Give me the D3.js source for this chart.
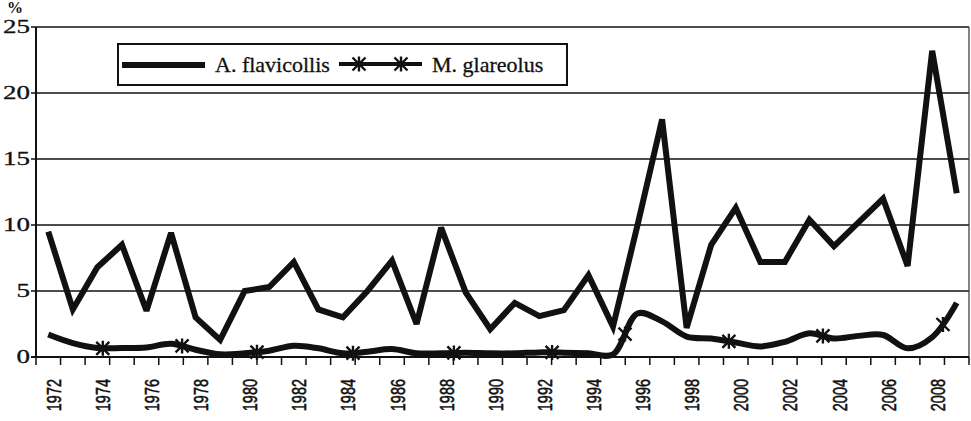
<!DOCTYPE html>
<html><head><meta charset="utf-8">
<script src="https://cdn.jsdelivr.net/npm/d3@7"></script>
<style>body{margin:0;background:#fff;} svg{display:block;}</style>
</head><body>
<svg id="c" width="971" height="421"></svg>
<script>
const years = d3.range(1972, 2010);
const flavicollis = [9.5,3.6,6.8,8.5,3.5,9.4,3.0,1.3,5.0,5.3,7.2,3.6,3.0,5.0,7.3,2.5,9.8,4.9,2.1,4.1,3.1,3.55,6.2,2.3,10.0,18.0,2.2,8.5,11.3,7.2,7.2,10.4,8.4,10.2,12.0,6.9,23.2,12.4];
const glareolus = [1.7,1.05,0.68,0.68,0.72,1.0,0.55,0.2,0.28,0.48,0.85,0.66,0.28,0.4,0.6,0.28,0.28,0.33,0.28,0.28,0.35,0.33,0.28,0.2,3.3,2.7,1.55,1.4,1.1,0.8,1.15,1.8,1.4,1.6,1.67,0.66,1.5,4.1];
const markerYears = [1974.22,1977.45,1980.5,1984.41,1988.52,1992.52,1995.49,1999.72,2003.55,2008.44];
const yTicks = [0,5,10,15,20,25];
const xLabels = d3.range(1972, 2010, 2);
const seriesNames = ["A. flavicollis","M. glareolus"];

const svg = d3.select("#c");
const L = 36, R = 969, T = 27, B = 357;
const xb = d3.scaleBand().domain(years).range([L, R]).padding(0);
const bw = xb.bandwidth();
const xc = d => xb(d) + bw/2;
const xl = d3.scaleLinear().domain([1972, 2009]).range([xc(1972), xc(2009)]);
const y = d3.scaleLinear().domain([0, 25]).range([B, T]);

// gridlines + y labels
const gy = svg.append("g");
gy.selectAll("line").data(yTicks).join("line")
  .attr("x1", L-5).attr("x2", R).attr("y1", d=>y(d)).attr("y2", d=>y(d))
  .attr("stroke", "#111").attr("stroke-width", 1.6);
gy.selectAll("text").data(yTicks).join("text")
  .attr("transform", d=>`translate(30,${y(d)}) scale(1.5,1)`)
  .attr("text-anchor","end").attr("dy","0.35em")
  .attr("font-family","'Liberation Serif', 'DejaVu Serif', serif")
  .attr("font-size",18).attr("fill","#111").attr("stroke","#111").attr("stroke-width",0.3).text(d=>d);
svg.append("text").attr("x",7).attr("y",13).attr("font-family","'Liberation Serif', serif")
  .attr("font-size",16).attr("fill","#111").attr("font-weight","bold").text("%");

// axes lines
svg.append("line").attr("x1",L).attr("x2",L).attr("y1",y(25)).attr("y2",B).attr("stroke","#111").attr("stroke-width",2);
svg.append("line").attr("x1",R).attr("x2",R).attr("y1",y(25)).attr("y2",B).attr("stroke","#333").attr("stroke-width",1.2);
svg.append("line").attr("x1",L-5).attr("x2",R).attr("y1",B).attr("y2",B).attr("stroke","#111").attr("stroke-width",2);

// x ticks at category boundaries
const bounds = years.map(d=>xb(d)).concat([R]);
svg.append("g").selectAll("line").data(bounds).join("line")
  .attr("x1",d=>d).attr("x2",d=>d).attr("y1",B).attr("y2",B+8)
  .attr("stroke","#111").attr("stroke-width",1.5);

// x labels
svg.append("g").selectAll("text").data(xLabels).join("text")
  .attr("transform", d=>`translate(${xc(d)+5},379) scale(1.45,1) rotate(-90)`)
  .attr("text-anchor","end").attr("dy","0.36em")
  .attr("font-family","'Liberation Sans', Arial, sans-serif")
  .attr("font-size",14.5).attr("fill","#111").attr("stroke","#111").attr("stroke-width",0.4).text(d=>d);

// A. flavicollis line
const lineA = d3.line().x((d,i)=>xc(years[i])).y(d=>y(d)).curve(d3.curveLinear);
svg.append("path").datum(flavicollis).attr("d", lineA)
  .attr("fill","none").attr("stroke","#111").attr("stroke-width",6).attr("stroke-linejoin","miter").attr("stroke-miterlimit",3);

// M. glareolus smooth line
const lineM = d3.line().x((d,i)=>xc(years[i])).y(d=>y(d)).curve(d3.curveCatmullRom.alpha(0.5));
const pM = svg.append("path").datum(glareolus).attr("d", lineM)
  .attr("fill","none").attr("stroke","#111").attr("stroke-width",6).attr("stroke-linejoin","round");

function star(g, cx, cy){
  const s = 6.5;
  g.append("path").attr("d",`M${cx-s},${cy-s}L${cx+s},${cy+s}M${cx-s},${cy+s}L${cx+s},${cy-s}M${cx},${cy-s-1}L${cx},${cy+s+1}`)
   .attr("stroke","#111").attr("stroke-width",2.4).attr("fill","none");
}
const node = pM.node();
const total = node.getTotalLength();
const mg = svg.append("g");
markerYears.forEach(yr=>{
  const tx = xl(yr);
  let lo=0, hi=total;
  for(let k=0;k<40;k++){ const mid=(lo+hi)/2; if(node.getPointAtLength(mid).x<tx) lo=mid; else hi=mid; }
  const p = node.getPointAtLength(lo);
  star(mg, p.x, p.y);
});

// legend
const lg = svg.append("g");
lg.append("rect").attr("x",118).attr("y",44).attr("width",449).attr("height",41)
  .attr("fill","#fff").attr("stroke","#111").attr("stroke-width",2);
lg.append("line").attr("x1",122).attr("x2",205).attr("y1",65).attr("y2",65).attr("stroke","#111").attr("stroke-width",6);
lg.append("text").attr("x",215).attr("y",72).attr("font-family","'Liberation Serif', serif").attr("font-size",22).attr("fill","#111").attr("stroke","#111").attr("stroke-width",0.3).text(seriesNames[0]);
lg.append("line").attr("x1",339).attr("x2",422).attr("y1",64).attr("y2",64).attr("stroke","#111").attr("stroke-width",4);
star(lg, 359, 64); star(lg, 401, 64);
lg.append("text").attr("x",432).attr("y",72).attr("font-family","'Liberation Serif', serif").attr("font-size",22).attr("fill","#111").attr("stroke","#111").attr("stroke-width",0.3).text(seriesNames[1]);
</script>
</body></html>
